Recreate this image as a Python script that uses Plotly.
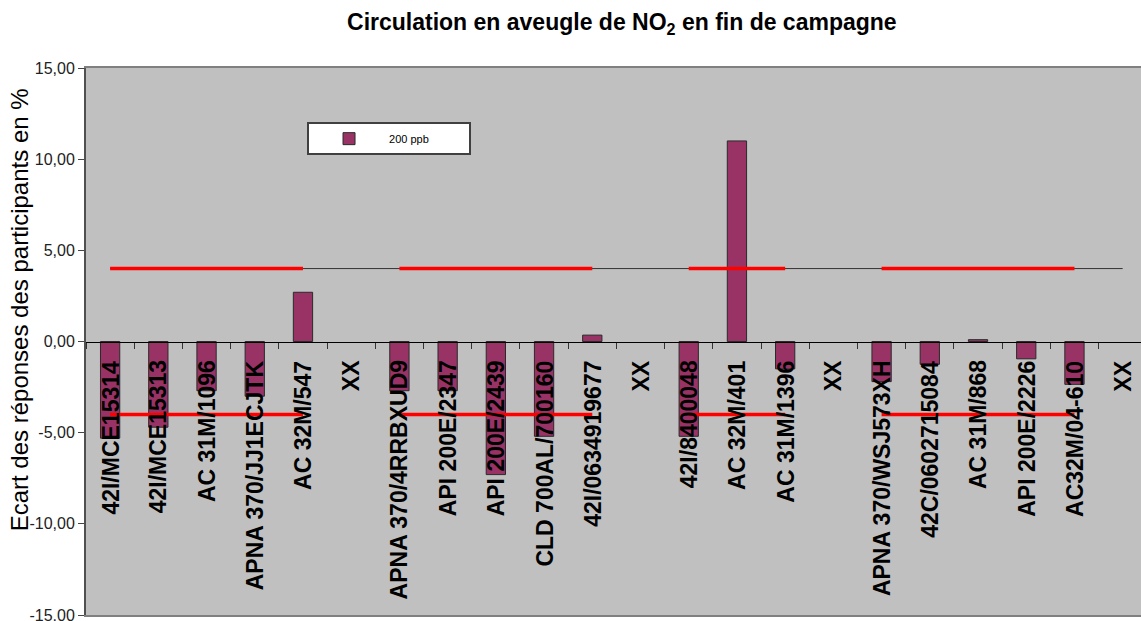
import plotly.graph_objects as go

# ---- data ----
labels = ["42I/MCE15314", "42I/MCE15313", "AC 31M/1096", "APNA 370/JJ1ECJTK", "AC 32M/547", "XX",
          "APNA 370/4RRBXUD9", "API 200E/2347", "API 200E/2439", "CLD 700AL/700160", "42I/0634919677", "XX",
          "42I/8400048", "AC 32M/401", "AC 31M/1396", "XX",
          "APNA 370/WSJ573XH", "42C/0602715084", "AC 31M/868", "API 200E/2226", "AC32M/04-610", "XX"]
values_200ppb = [-5.3, -4.7, -2.7, -3.0, 2.7, None,
                 -2.7, -2.7, -7.3, -5.2, 0.35, None,
                 -5.2, 11.0, -1.5, None,
                 -2.2, -1.25, 0.1, -0.95, -2.35, None]
upper_limit = [4, 4, 4, 4, 4, None,
               4, 4, 4, 4, 4, None,
               4, 4, 4, None,
               4, 4, 4, 4, 4, None]
lower_limit = [-4, -4, -4, -4, -4, None,
               -4, -4, -4, -4, -4, None,
               -4, -4, -4, None,
               -4, -4, -4, -4, -4, None]
reference_line = [4, 4, 4, 4, 4, 4, 4, 4, 4, 4, 4, 4, 4, 4, 4, 4, 4, 4, 4, 4, 4, 4]
y_ticks = [-15, -10, -5, 0, 5, 10, 15]
y_tick_text = ["-15,00", "-10,00", "-5,00", "0,00", "5,00", "10,00", "15,00"]
series_name = "200 ppb"
title_text = "Circulation en aveugle de NO<sub>2</sub> en fin de campagne"
y_title = "Ecart des réponses des participants en %"

# unique category keys (labels repeat "XX")
categories = [f"{i}:{lab}" for i, lab in enumerate(labels)]

FONT = "Liberation Sans, Arial, sans-serif"

fig = go.Figure()

fig.add_trace(go.Scatter(x=categories, y=reference_line, mode="lines",
                         line=dict(color="#333333", width=1), showlegend=False, hoverinfo="skip"))
fig.add_trace(go.Bar(x=categories, y=values_200ppb, name=series_name,
                     marker=dict(color="#993366", line=dict(color="#2a2a2a", width=1))))
fig.add_trace(go.Scatter(x=categories, y=upper_limit, mode="lines", connectgaps=False, xaxis="x2",
                         line=dict(color="#FF0000", width=3.5), showlegend=False))
fig.add_trace(go.Scatter(x=categories, y=lower_limit, mode="lines", connectgaps=False, xaxis="x2",
                         line=dict(color="#FF0000", width=3.5), showlegend=False))

annotations = []
for cat, lab in zip(categories, labels):
    annotations.append(dict(x=cat, y=0, xref="x", yref="y", text=lab, textangle=-90,
                            xanchor="center", yanchor="top", yshift=-17, showarrow=False,
                            font=dict(family=FONT, size=23, color="#000000", weight="bold")))
annotations.append(dict(x=-0.0635, y=0.557, xref="paper", yref="paper", text=y_title,
                        textangle=-90, showarrow=False, xanchor="center", yanchor="middle",
                        font=dict(family=FONT, size=24, color="#000000")))

xrange = [-0.5, 21.38]
fig.update_layout(
    width=1141, height=621,
    margin=dict(l=86, r=0, t=68, b=6),
    paper_bgcolor="white", plot_bgcolor="#C0C0C0",
    separators=",.",
    bargap=0.6,
    font=dict(family=FONT),
    title=dict(text="<b>" + title_text + "</b>", x=0.545, xanchor="center",
               y=1 - 22 / 621, yref="container", yanchor="middle",
               font=dict(family=FONT, size=23, color="#000000")),
    xaxis=dict(type="category", categoryorder="array", categoryarray=categories,
               range=xrange, anchor="free", position=0.5,
               showline=True, linecolor="#000000", linewidth=1,
               ticks="outside", tickson="boundaries", ticklen=6, tickcolor="#333333",
               showticklabels=False, showgrid=False, zeroline=False, automargin=False),
    xaxis2=dict(type="category", categoryorder="array", categoryarray=categories,
                range=xrange, overlaying="x", anchor="y", side="bottom",
                showline=True, mirror=True, linecolor="#808080", linewidth=2,
                showticklabels=False, ticks="", showgrid=False, zeroline=False, automargin=False),
    yaxis=dict(range=[-15, 15], tickvals=y_ticks, ticktext=y_tick_text,
               ticks="outside", ticklen=6, tickcolor="#444444",
               showline=True, linecolor="#505050", linewidth=2,
               showgrid=False, zeroline=False, automargin=False, ticklabeloverflow="allow",
               tickfont=dict(family=FONT, size=16, color="#222222")),
    legend=dict(x=0.2095, y=0.901, xanchor="left", yanchor="top",
                bgcolor="white", bordercolor="#404040", borderwidth=2,
                orientation="h", entrywidth=75, itemwidth=70,
                font=dict(family=FONT, size=11, color="#000000")),
    annotations=annotations,
)

fig.write_html("out.html", config={"displayModeBar": False},
               post_script="document.body.style.margin='0';document.body.style.overflow='hidden';")
